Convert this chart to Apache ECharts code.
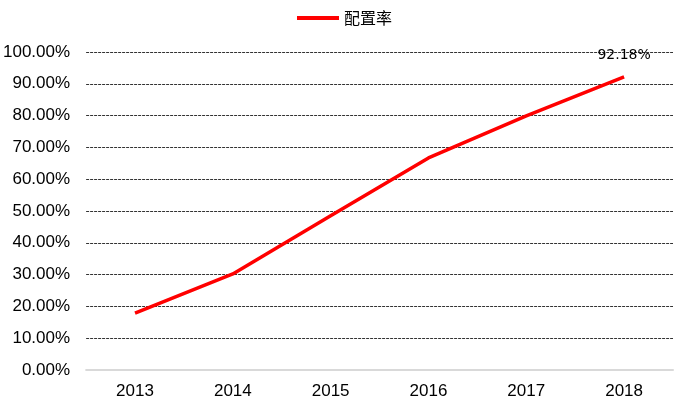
<!DOCTYPE html>
<html><head><meta charset="utf-8">
<script src="https://cdn.jsdelivr.net/npm/echarts@6/dist/echarts.min.js"></script>
<style>html,body{margin:0;padding:0;background:#fff}#c{width:689px;height:419px}</style>
</head><body><div id="c"></div>
<script>
const categories = ['2013','2014','2015','2016','2017','2018'];
const seriesName = '配置率';
const values = [17.9, 30.2, 48.5, 66.7, 79.9, 92.18];
const labelIndex = 5;

const chart = echarts.init(document.getElementById('c'));
chart.setOption({
  animation: false,
  legend: {
    top: 5, left: 'center',
    itemWidth: 42, itemHeight: 14, itemGap: 4,
    textStyle: {fontFamily: 'Noto Sans CJK SC', fontSize: 16, color: '#000'},
    data: [{name: seriesName, icon: 'path://M0,5 L42,5 L42,9 L0,9 Z'}]
  },
  grid: {left: 86, right: 16, top: 52, bottom: 49, containLabel: false},
  xAxis: {
    type: 'category', data: categories, boundaryGap: true,
    axisLine: {lineStyle: {color: '#d9d9d9', width: 2}},
    axisTick: {show: false},
    axisLabel: {fontFamily: 'Liberation Sans', fontSize: 17, color: '#000', margin: 13}
  },
  yAxis: {
    type: 'value', min: 0, max: 100, interval: 10,
    axisLine: {show: false}, axisTick: {show: false},
    axisLabel: {fontFamily: 'Liberation Sans', fontSize: 17, color: '#000', margin: 16,
      formatter: v => v.toFixed(2) + '%'},
    splitLine: {lineStyle: {color: '#333', type: [3, 1], width: 1}}
  },
  series: [{
    name: seriesName, type: 'line',
    data: values.map((v, i) => i === labelIndex ? {value: v, label: {show: true}} : v),
    symbol: 'circle', symbolSize: 0, showSymbol: true,
    lineStyle: {color: '#ff0000', width: 3.5}, itemStyle: {color: '#ff0000'},
    label: {show: false, position: 'top', distance: 15, fontFamily: 'DejaVu Sans', fontSize: 14, color: '#000',
      formatter: p => p.value.toFixed(2) + '%'}
  }]
});
</script></body></html>
